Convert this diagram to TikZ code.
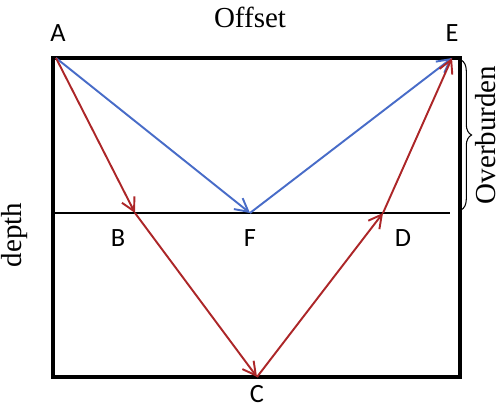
\documentclass[tikz,border=0pt]{standalone}
\usepackage{fontspec}
\setmainfont{Liberation Serif}
\newfontfamily\lblfont{Carlito}
\usetikzlibrary{arrows.meta,decorations.pathreplacing}
\definecolor{rayred}{RGB}{172,38,40}
\definecolor{rayblue}{RGB}{72,108,200}

\begin{document}
\begin{tikzpicture}[x=0.02cm, y=-0.02cm, >={Straight Barb[length=2.6mm,width=2.8mm]},
    pt/.style={font=\lblfont\fontsize{15}{17}\selectfont, inner sep=0pt},
    ttl/.style={font=\fontsize{16.5}{18}\selectfont, inner sep=0pt},
    ray/.style={->, line width=1.1pt},
    layer/.style={line width=1.2pt}]
  \useasboundingbox (0,0) rectangle (500,408);
  % model box
  \draw[line width=1.9pt] (53,58) rectangle (460,377);
  \coordinate (A) at (56,58);
  \coordinate (E) at (452,58);
  \coordinate (B) at (135,213);
  \coordinate (F) at (250,213);
  \coordinate (D) at (383,213);
  \coordinate (C) at (257,377);
  \coordinate (L1) at (53,213);
  \coordinate (L2) at (450,213);
  \draw[layer] (L1) -- (L2);
  % labels
  \node[pt] (lA) at (58,33) {A};
  \node[pt] (lE) at (452,33) {E};
  \node[pt] (lB) at (118,238) {B};
  \node[pt] (lF) at (250,238) {F};
  \node[pt] (lD) at (403,238) {D};
  \node[pt] (lC) at (257,394) {C};
  \node[ttl] (off) at (250,17) {Offset};
  \node[ttl, rotate=90] (dep) at (15,235) {depth};
  \node[ttl, rotate=90] (ovb) at (486,135) {Overburden};
  % rays
  \draw[ray, rayblue] (A) -- (F);
  \draw[ray, rayblue] (F) -- (E);
  \draw[ray, rayred] (A) -- (B);
  \draw[ray, rayred] (B) -- (C);
  \draw[ray, rayred] (C) -- (D);
  \draw[ray, rayred] (D) -- (E);
  % overburden brace
  \coordinate (b1) at (461,60);
  \coordinate (b2) at (461,210);
  \draw[decorate, decoration={brace, amplitude=6pt}, line width=0.6pt] (b1) -- (b2);
\end{tikzpicture}
\end{document}
